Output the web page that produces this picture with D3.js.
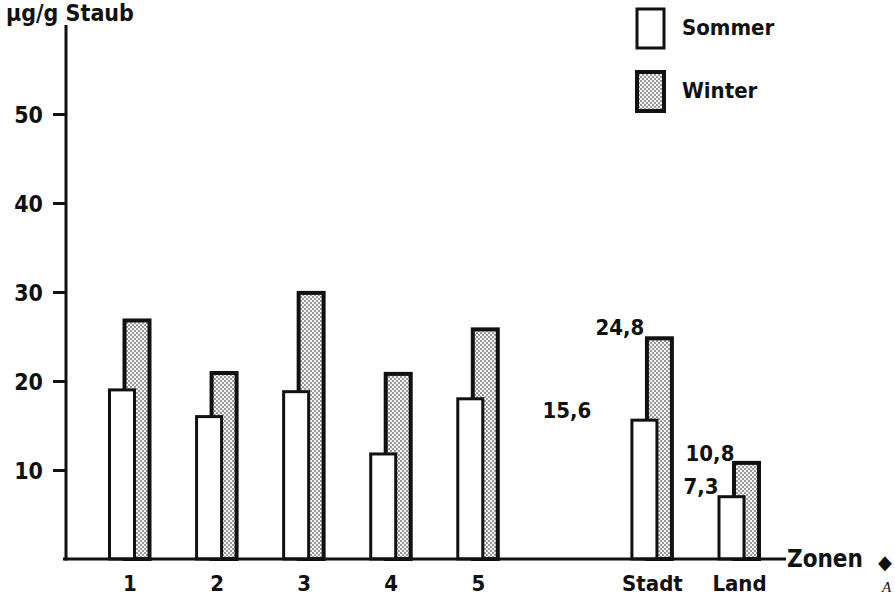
<!DOCTYPE html>
<html>
<head>
<meta charset="utf-8">
<script src="https://cdn.jsdelivr.net/npm/d3@7"></script>
<style>
  body { margin: 0; background: #fff; }
  svg { display: block; }
  text { font-family: "DejaVu Sans Condensed", "DejaVu Sans", sans-serif; font-weight: bold; fill: #111; }
</style>
</head>
<body>
<svg id="chart" width="895" height="595"></svg>
<script>
const zones = ["1", "2", "3", "4", "5", "", "Stadt", "Land"];
const sommer = [19.0, 16.0, 18.8, 11.8, 18.0, null, 15.6, 7.0];
const winter = [26.8, 20.9, 29.9, 20.8, 25.8, null, 24.8, 10.8];
const yTicks = [10, 20, 30, 40, 50];
const valueLabels = [
  { zone: "Stadt", series: "winter", text: "24,8" },
  { zone: "Stadt", series: "sommer", text: "15,6" },
  { zone: "Land", series: "winter", text: "10,8" },
  { zone: "Land", series: "sommer", text: "7,3" }
];

const ink = '#111';
const svg = d3.select("#chart");

const defs = svg.append("defs");
const pat = defs.append("pattern")
  .attr("id", "stipple")
  .attr("patternUnits", "userSpaceOnUse")
  .attr("width", 4).attr("height", 4);
pat.append("rect").attr("width", 4).attr("height", 4).attr("fill", "#f7f7f7");
pat.append("circle").attr("cx", 1).attr("cy", 1).attr("r", 0.8).attr("fill", "#222");
pat.append("circle").attr("cx", 3).attr("cy", 3).attr("r", 0.8).attr("fill", "#222");

const x = d3.scalePoint().domain(zones).range([129.5, 739]);
const y = d3.scaleLinear().domain([0, 50]).range([559, 114]);

const axisX = 66;
const barW = 25;

// y axis
svg.append("line")
  .attr("x1", axisX).attr("x2", axisX)
  .attr("y1", 25).attr("y2", y(0) + 1.5)
  .attr("stroke", ink).attr("stroke-width", 3);

const yAxis = svg.append("g")
  .attr("transform", `translate(${axisX},0)`)
  .call(d3.axisLeft(y).tickValues(yTicks).tickSize(13).tickPadding(10));
yAxis.select(".domain").remove();
yAxis.selectAll("line").attr("stroke", ink).attr("stroke-width", 3);
yAxis.selectAll("text")
  .attr("fill", ink)
  .attr("dy", "0.36em")
  .style("font-size", "23px")
  .style("font-family", "\"DejaVu Sans Condensed\", sans-serif")
  .style("font-weight", "bold");

// bars: winter behind, sommer in front
const data = zones.map((z, i) => ({ zone: z, sommer: sommer[i], winter: winter[i] }))
  .filter(d => d.sommer !== null);

svg.selectAll(".winter")
  .data(data)
  .enter()
  .append("rect")
  .attr("class", "winter")
  .attr("x", d => x(d.zone) - 5)
  .attr("y", d => y(d.winter))
  .attr("width", barW)
  .attr("height", d => y(0) - y(d.winter))
  .attr("fill", "url(#stipple)")
  .attr("stroke", ink)
  .attr("stroke-width", 4);

svg.selectAll(".sommer")
  .data(data)
  .enter()
  .append("rect")
  .attr("class", "sommer")
  .attr("x", d => x(d.zone) - 20)
  .attr("y", d => y(d.sommer))
  .attr("width", barW)
  .attr("height", d => y(0) - y(d.sommer))
  .attr("fill", "#fff")
  .attr("stroke", ink)
  .attr("stroke-width", 3);

// x axis
svg.append("line")
  .attr("x1", axisX - 3).attr("x2", 786)
  .attr("y1", y(0)).attr("y2", y(0))
  .attr("stroke", ink).attr("stroke-width", 3);

const xAxis = svg.append("g")
  .attr("transform", `translate(0,${y(0)})`)
  .call(d3.axisBottom(x).tickSize(0).tickPadding(16));
xAxis.select(".domain").remove();
xAxis.selectAll("text")
  .attr("fill", ink)
  .style("font-size", "22px")
  .style("font-family", "\"DejaVu Sans Condensed\", sans-serif")
  .style("font-weight", "bold");

svg.append("text")
  .attr("x", 787).attr("y", y(0) + 8)
  .style("font-size", "24px")
  .text("Zonen");

// axis title
svg.append("text")
  .attr("x", 6).attr("y", 21)
  .style("font-size", "23px")
  .text("µg/g Staub");

// value labels
valueLabels.forEach(l => {
  const v = l.series === "winter" ? winter[zones.indexOf(l.zone)] : sommer[zones.indexOf(l.zone)];
  let tx, ty;
  if (l.zone === "Stadt" && l.series === "winter") { tx = x(l.zone) - 32; ty = y(v) - 3; }
  else if (l.zone === "Stadt") { tx = x(l.zone) - 85; ty = y(v) - 2; }
  else if (l.series === "winter") { tx = x(l.zone) - 29; ty = y(v) - 2; }
  else { tx = x(l.zone) - 38; ty = y(v) - 3; }
  svg.append("text")
    .attr("x", tx).attr("y", ty)
    .attr("text-anchor", "middle")
    .style("font-size", "22px")
    .text(l.text);
});

// legend
const legend = [
  { label: "Sommer", fill: "#fff", sw: 3, y0: 9 },
  { label: "Winter", fill: "url(#stipple)", sw: 4, y0: 72 }
];
legend.forEach(d => {
  svg.append("rect")
    .attr("x", 637).attr("y", d.y0)
    .attr("width", 27).attr("height", 39)
    .attr("fill", d.fill)
    .attr("stroke", ink).attr("stroke-width", d.sw);
  svg.append("text")
    .attr("x", 682).attr("y", d.y0 + 26)
    .style("font-size", "22px")
    .text(d.label);
});

// marks at the right edge of the scan
svg.append("text")
  .attr("x", 878).attr("y", y(0) + 10)
  .style("font-size", "20px")
  .text("◆");
svg.append("text")
  .attr("x", 882).attr("y", 592)
  .style("font-family", "\"Liberation Serif\", serif")
  .style("font-style", "italic")
  .style("font-weight", "normal")
  .style("font-size", "15px")
  .attr("fill", "#555")
  .text("A");
</script>
</body>
</html>
